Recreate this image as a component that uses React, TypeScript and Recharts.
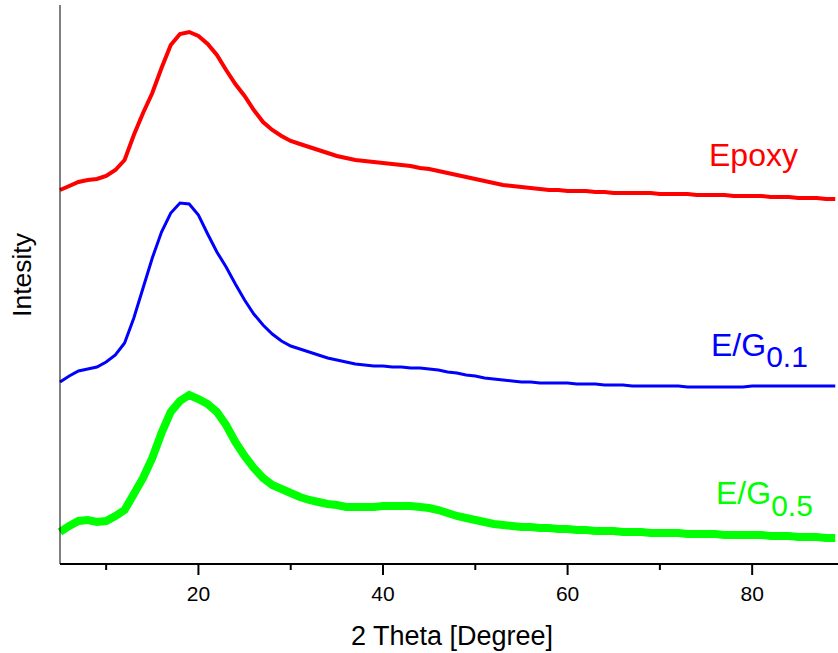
import { LineChart, Line, XAxis, YAxis } from "recharts";

// 2 theta, 1 degree steps from 5 to 89
const theta = [
  5, 6, 7, 8, 9, 10, 11, 12, 13, 14, 15, 16, 17, 18, 19, 20, 21, 22, 23, 24,
  25, 26, 27, 28, 29, 30, 31, 32, 33, 34, 35, 36, 37, 38, 39, 40, 41, 42, 43, 44,
  45, 46, 47, 48, 49, 50, 51, 52, 53, 54, 55, 56, 57, 58, 59, 60, 61, 62, 63, 64,
  65, 66, 67, 68, 69, 70, 71, 72, 73, 74, 75, 76, 77, 78, 79, 80, 81, 82, 83, 84,
  85, 86, 87, 88, 89,
];

// intensities (a.u., stacked with offsets as in the figure)
const epoxy = [
  374, 378, 382, 384, 385, 388, 394, 404, 429, 451,
  471, 496, 519, 530, 532, 528, 520, 509, 494, 480,
  468, 454, 442, 434, 428, 423, 420, 417, 414, 411,
  408, 406, 404, 403, 402, 401, 400, 399, 398, 396,
  395, 393, 391, 389, 387, 385, 383, 381, 379, 378,
  377, 376, 375, 374, 374, 373, 373, 373, 372, 372,
  371, 371, 371, 371, 371, 370, 370, 370, 370, 369,
  369, 369, 369, 368, 368, 368, 368, 367, 367, 367,
  366, 366, 366, 365, 365,
];

const eg01 = [
  182, 188, 193, 195, 197, 202, 209, 221, 246, 276,
  306, 332, 351, 361, 360, 349, 330, 312, 297, 280,
  264, 250, 239, 230, 223, 218, 215, 212, 209, 206,
  204, 202, 200, 199, 198, 198, 197, 197, 196, 196,
  195, 194, 192, 191, 189, 188, 186, 185, 184, 183,
  182, 182, 181, 181, 181, 181, 180, 180, 180, 179,
  179, 179, 178, 178, 178, 178, 178, 178, 177, 177,
  177, 177, 177, 177, 177, 178, 178, 178, 178, 178,
  178, 178, 178, 178, 178,
];

const eg05 = [
  32, 38, 43, 44, 42, 43, 48, 54, 70, 86,
  106, 131, 152, 163, 169, 165, 160, 152, 139, 122,
  108, 96, 86, 79, 75, 71, 67, 64, 62, 60,
  59, 57, 57, 57, 57, 58, 58, 58, 58, 57,
  56, 54, 51, 48, 46, 44, 42, 40, 39, 38,
  37, 37, 36, 36, 35, 35, 34, 34, 33, 33,
  33, 32, 32, 32, 31, 31, 31, 31, 30, 30,
  30, 30, 29, 29, 29, 29, 29, 28, 28, 28,
  27, 27, 27, 26, 26,
];

const xTicks = [10, 20, 30, 40, 50, 60, 70, 80];
const labeledTicks = [20, 40, 60, 80];

const data = theta.map((t, i) => ({
  theta: t,
  epoxy: epoxy[i],
  eg01: eg01[i],
  eg05: eg05[i],
}));

const FONT = '"Liberation Sans", Arial, Helvetica, sans-serif';

function AxisTick(props: any) {
  const { x, y, payload } = props;
  const major = labeledTicks.includes(payload.value);
  return (
    <g>
      <line x1={x} x2={x} y1={y} y2={y + (major ? 11 : 6)} stroke="#000" strokeWidth={2} />
      {major && (
        <text x={x} y={y + 37} textAnchor="middle" fontSize={21} fontFamily={FONT} fill="#000">
          {payload.value}
        </text>
      )}
    </g>
  );
}

export default function App() {
  return (
    <div style={{ position: "absolute", left: 0, top: 0, width: 838, height: 653, background: "#fff" }}>
      <LineChart width={838} height={653} data={data} margin={{ top: 5, right: 0, bottom: 0, left: 0 }}>
        <XAxis
          dataKey="theta"
          type="number"
          domain={[5, 89.3]}
          ticks={xTicks}
          tick={<AxisTick />}
          tickLine={false}
          tickSize={0}
          tickMargin={0}
          height={89}
          axisLine={{ stroke: "#000", strokeWidth: 2 }}
          interval={0}
        />
        <YAxis
          type="number"
          domain={[0, 559]}
          width={60}
          tick={false}
          tickLine={false}
          axisLine={{ stroke: "#000", strokeWidth: 1 }}
        />
        <Line type="linear" dataKey="epoxy" stroke="#ff0000" strokeWidth={4} dot={false} isAnimationActive={false} />
        <Line type="linear" dataKey="eg01" stroke="#0000ff" strokeWidth={3} dot={false} isAnimationActive={false} />
        <Line type="linear" dataKey="eg05" stroke="#00ff00" strokeWidth={8} dot={false} isAnimationActive={false} />
      </LineChart>
      <svg width={838} height={653} style={{ position: "absolute", left: 0, top: 0, pointerEvents: "none" }}>
        <g fontFamily={FONT}>
          <text x={709} y={166} fontSize={32} fill="#ff0000">Epoxy</text>
          <text x={711} y={356} fontSize={32} fill="#0000ff">
            E/G<tspan fontSize={30} dy={11}>0.1</tspan>
          </text>
          <text x={716} y={504} fontSize={32} fill="#00ff00">
            E/G<tspan fontSize={30} dy={12}>0.5</tspan>
          </text>
          <text x={452} y={645} fontSize={27} textAnchor="middle" fill="#000">2 Theta [Degree]</text>
          <text x={31} y={275} fontSize={26.5} textAnchor="middle" fill="#000" transform="rotate(-90 31 275)">
            Intesity
          </text>
        </g>
      </svg>
    </div>
  );
}
